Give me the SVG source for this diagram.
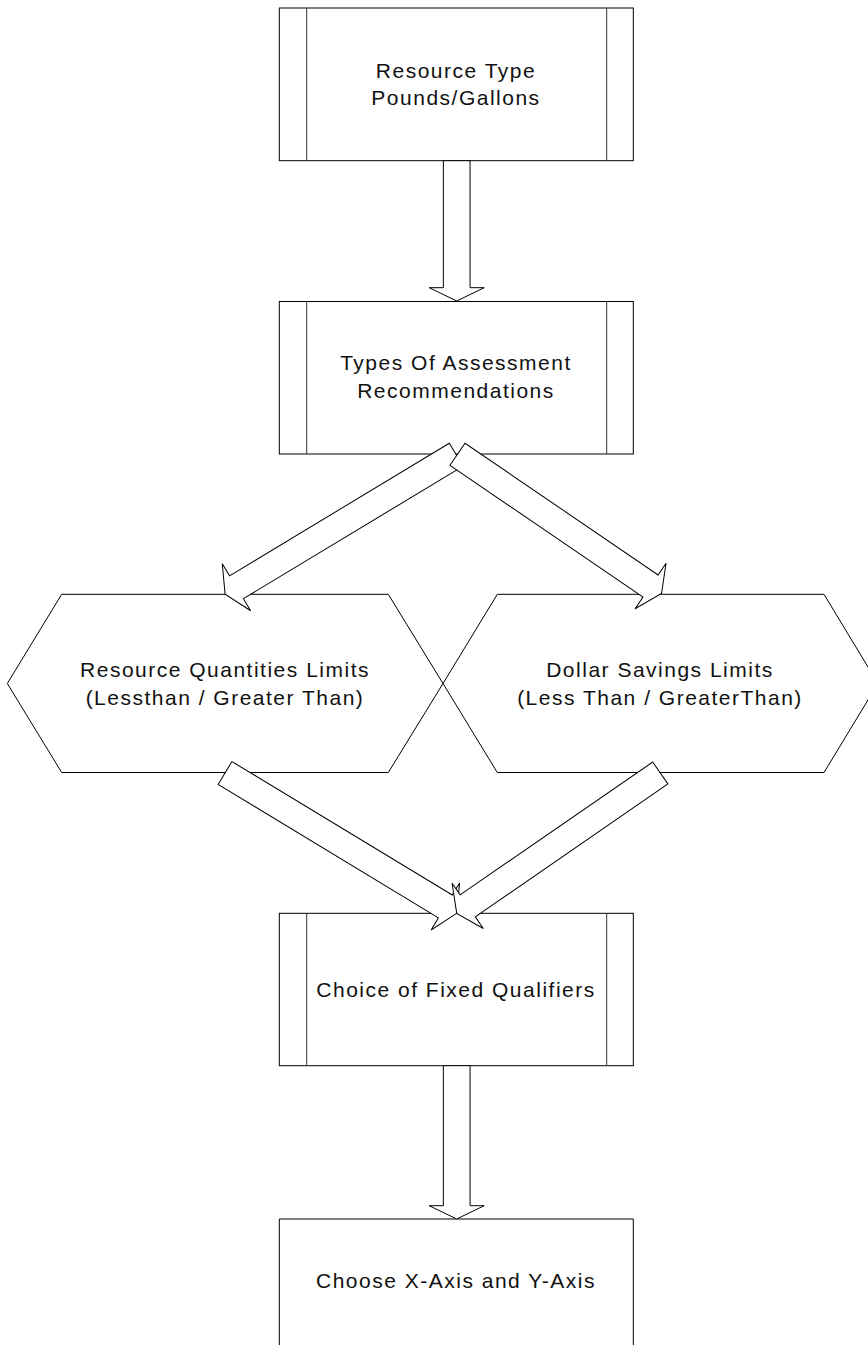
<svg xmlns="http://www.w3.org/2000/svg" width="868" height="1345" viewBox="0 0 868 1345">
  <style>
    .shape { fill: #fff; stroke: #000; stroke-width: 1; }
    .bar { fill: none; stroke: #333; stroke-width: 1; }
    .label { font-family: "Liberation Sans", Arial, sans-serif; font-size: 21px; letter-spacing: 1.5px; fill: #111; text-anchor: middle; }
    .arrow { fill: #fff; stroke: #000; stroke-width: 1; stroke-linejoin: miter; }
  </style>

  <rect width="868" height="1345" fill="#fff"/>

  <!-- Process boxes with side bars -->
  <g id="node-resource-type">
    <rect class="shape" x="279.3" y="8" width="354" height="152.7"/>
    <line class="bar" x1="306.7" y1="8" x2="306.7" y2="160.7"/>
    <line class="bar" x1="606.7" y1="8" x2="606.7" y2="160.7"/>
    <text class="label" x="456" y="78">Resource Type</text>
    <text class="label" x="456" y="105">Pounds/Gallons</text>
  </g>

  <g id="node-assessment-types">
    <rect class="shape" x="279.3" y="301.5" width="354" height="152.5"/>
    <line class="bar" x1="306.7" y1="301.5" x2="306.7" y2="454"/>
    <line class="bar" x1="606.7" y1="301.5" x2="606.7" y2="454"/>
    <text class="label" x="456" y="370">Types Of Assessment</text>
    <text class="label" x="456" y="398">Recommendations</text>
  </g>

  <!-- Limit hexagons (they share the middle vertex) -->
  <g id="node-quantity-limits">
    <polygon class="shape" points="7.3,683.5 61.7,594.3 388.3,594.3 443,683.5 388.3,772.5 61.7,772.5"/>
    <text class="label" x="225" y="677">Resource Quantities Limits</text>
    <text class="label" x="225" y="705">(Lessthan / Greater Than)</text>
  </g>

  <g id="node-dollar-limits">
    <polygon class="shape" style="fill:none" points="443,683.5 497.3,594.3 824,594.3 878,683.5 824,772.5 497.3,772.5"/>
    <text class="label" x="660" y="677">Dollar Savings Limits</text>
    <text class="label" x="660" y="705">(Less Than / GreaterThan)</text>
  </g>

  <g id="node-fixed-qualifiers">
    <rect class="shape" x="279.3" y="913.3" width="354" height="152.4"/>
    <line class="bar" x1="306.7" y1="913.3" x2="306.7" y2="1065.7"/>
    <line class="bar" x1="606.7" y1="913.3" x2="606.7" y2="1065.7"/>
    <text class="label" x="456" y="997">Choice of Fixed Qualifiers</text>
  </g>

  <g id="node-choose-axes">
    <polyline class="shape" points="279.3,1346 279.3,1219 633.3,1219 633.3,1346"/>
    <text class="label" x="456" y="1288">Choose X-Axis and Y-Axis</text>
  </g>

  <!-- Block arrows: each drawn pointing down (+y) from its tail centre, then rotated -->
  <g id="connectors">
    <path class="arrow" transform="translate(456.7,160.7)" d="M-13.35,0 L13.35,0 L13.35,127 L27.5,127 L0,140.3 L-27.5,127 L-13.35,127 Z"/>

    <path class="arrow" transform="translate(456.2,454.7) rotate(58.9)" d="M-13.35,0 L13.35,0 L13.35,256.6 L27.5,256.6 L0,269.9 L-27.5,256.6 L-13.35,256.6 Z"/>
    <path class="arrow" transform="translate(457.5,454.3) rotate(-55.7)" d="M-13.35,0 L13.35,0 L13.35,233.7 L27.5,233.7 L0,247 L-27.5,233.7 L-13.35,233.7 Z"/>

    <path class="arrow" transform="translate(225,773) rotate(-58.8)" d="M-13.35,0 L13.35,0 L13.35,257.6 L27.5,257.6 L0,270.9 L-27.5,257.6 L-13.35,257.6 Z"/>
    <path class="arrow" transform="translate(660.3,773) rotate(55.4)" d="M-13.35,0 L13.35,0 L13.35,234 L27.5,234 L0,247.3 L-27.5,234 L-13.35,234 Z"/>

    <path class="arrow" transform="translate(456.7,1065.7)" d="M-13.35,0 L13.35,0 L13.35,140 L27.5,140 L0,153.3 L-27.5,140 L-13.35,140 Z"/>
  </g>
</svg>
